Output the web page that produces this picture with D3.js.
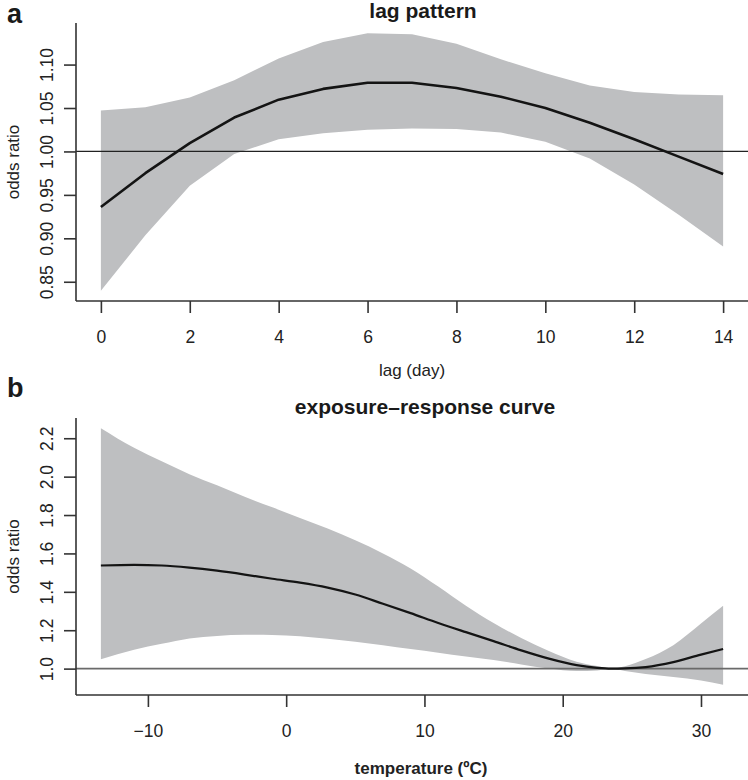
<!DOCTYPE html>
<html>
<head>
<meta charset="utf-8">
<script src="https://cdn.jsdelivr.net/npm/d3@7"></script>
<style>
  html, body { margin: 0; padding: 0; background: #fff; }
  svg { display: block; font-family: "Liberation Sans", Arial, Helvetica, sans-serif; }
</style>
</head>
<body>
<svg id="chart" width="748" height="780"></svg>
<script>
// ---- Panel a: lag pattern ----
const lags = [0, 1, 2, 3, 4, 5, 6, 7, 8, 9, 10, 11, 12, 13, 14];
const fitA = [0.936, 0.975, 1.0095, 1.039, 1.0596, 1.072, 1.079, 1.079, 1.073, 1.063, 1.050, 1.033, 1.014, 0.994, 0.974];
const upperA = [1.047, 1.051, 1.062, 1.082, 1.107, 1.126, 1.136, 1.135, 1.124, 1.106, 1.090, 1.076, 1.0685, 1.0655, 1.0646];
const lowerA = [0.8397, 0.9034, 0.9604, 0.997, 1.0141, 1.021, 1.0249, 1.0263, 1.0257, 1.0218, 1.0113, 0.992, 0.962, 0.927, 0.8906];
const xTicksA = [0, 2, 4, 6, 8, 10, 12, 14];
const yTicksA = [0.85, 0.90, 0.95, 1.00, 1.05, 1.10];

// ---- Panel b: exposure-response curve ----
const temps = [-13.4, -11, -9, -7, -5, -3, -1, 1, 3, 5, 7, 9, 11, 13, 15, 17, 19, 21, 22.5, 23.5, 24.5, 26, 28, 30, 31.6];
const fitB = [1.537, 1.540, 1.537, 1.526, 1.510, 1.490, 1.468, 1.448, 1.422, 1.386, 1.338, 1.289, 1.238, 1.190, 1.143, 1.095, 1.052, 1.018, 1.004, 1.000, 1.001, 1.008, 1.034, 1.073, 1.102];
const upperB = [2.252, 2.150, 2.080, 2.013, 1.955, 1.895, 1.840, 1.785, 1.730, 1.668, 1.600, 1.522, 1.428, 1.328, 1.237, 1.160, 1.092, 1.036, 1.013, 1.000, 1.012, 1.050, 1.122, 1.235, 1.327];
const lowerB = [1.049, 1.098, 1.129, 1.157, 1.170, 1.176, 1.175, 1.168, 1.155, 1.140, 1.122, 1.102, 1.083, 1.063, 1.045, 1.022, 1.000, 0.987, 0.990, 1.000, 0.988, 0.972, 0.956, 0.938, 0.916];
const xTicksB = [-10, 0, 10, 20, 30];
const yTicksB = [1.0, 1.2, 1.4, 1.6, 1.8, 2.0, 2.2];

const svg = d3.select("#chart");
const AXIS = "#333";
const BAND = "#bebfc1";

function rExtend(lo, hi) { const d = (hi - lo) * 0.04; return [lo - d, hi + d]; }

function panel(cfg) {
  const { top, bottom, left, right } = cfg;
  const x = d3.scaleLinear().domain(rExtend(d3.min(cfg.xs), d3.max(cfg.xs))).range([left, right]);
  const yMin = d3.min(cfg.lower), yMax = d3.max(cfg.upper);
  const y = d3.scaleLinear().domain(rExtend(yMin, yMax)).range([bottom, top]);
  const g = svg.append("g");
  const rows = cfg.xs.map((v, i) => ({ x: v, fit: cfg.fit[i], lo: cfg.lower[i], hi: cfg.upper[i] }));

  g.append("path")
    .datum(rows)
    .attr("fill", BAND)
    .attr("d", d3.area().curve(cfg.curve).x(d => x(d.x)).y0(d => y(d.lo)).y1(d => y(d.hi)));

  // reference line at 1
  g.append("line")
    .attr("x1", left).attr("x2", right)
    .attr("y1", y(1)).attr("y2", y(1))
    .attr("stroke", cfg.refColor).attr("stroke-width", cfg.refWidth);

  g.append("path")
    .datum(rows)
    .attr("fill", "none")
    .attr("stroke", "#141414")
    .attr("stroke-width", cfg.lineWidth)
    .attr("stroke-linejoin", "round")
    .attr("d", d3.line().curve(cfg.curve).x(d => x(d.x)).y(d => y(d.fit)));

  // x axis
  const xa = g.append("g").attr("transform", `translate(0,${bottom})`)
    .call(d3.axisBottom(x).tickValues(cfg.xTicks).tickSize(12).tickSizeOuter(0).tickPadding(18)
      .tickFormat(cfg.xFmt));
  xa.select(".domain").attr("d", `M${left},0H${right}`);
  // y axis
  const ya = g.append("g").attr("transform", `translate(${left},0)`)
    .call(d3.axisLeft(y).tickValues(cfg.yTicks).tickSize(12).tickSizeOuter(0).tickFormat(cfg.yFmt));
  ya.select(".domain").attr("d", `M0,${top}V${bottom}`);

  [xa, ya].forEach(a => {
    a.select(".domain").attr("stroke", AXIS).attr("stroke-width", 1.6);
    a.selectAll(".tick line").attr("stroke", AXIS).attr("stroke-width", 1.6);
    a.selectAll(".tick text").attr("fill", "#222").attr("font-size", 17.5)
      .attr("font-family", "Liberation Sans, Arial, sans-serif");
  });
  xa.selectAll(".tick text").attr("dy", null).attr("y", 42);
  ya.selectAll(".tick text")
    .attr("x", null).attr("dy", null)
    .attr("text-anchor", "middle")
    .attr("transform", "translate(-23,0) rotate(-90)");

  // titles and labels
  svg.append("text").attr("x", cfg.titleX).attr("y", cfg.titleY)
    .attr("text-anchor", "middle").attr("font-size", 21).attr("font-weight", "bold")
    .attr("fill", "#1a1a1a").text(cfg.title);
  svg.append("text").attr("x", 7).attr("y", cfg.letterY)
    .attr("font-size", 27).attr("font-weight", "bold").attr("fill", "#1a1a1a").text(cfg.letter);
  svg.append("text").attr("transform", `translate(19,${(top + bottom) / 2}) rotate(-90)`)
    .attr("text-anchor", "middle").attr("font-size", 17).attr("fill", "#222").text("odds ratio");
  svg.append("text").attr("x", cfg.xLabelX).attr("y", cfg.xLabelY)
    .attr("text-anchor", "middle").attr("font-size", 17)
    .attr("font-weight", cfg.xLabelBold ? "bold" : "normal")
    .attr("fill", "#222").text(cfg.xLabel);
}

panel({
  top: 23, bottom: 301, left: 76, right: 748,
  xs: lags, fit: fitA, lower: lowerA, upper: upperA,
  xTicks: xTicksA, yTicks: yTicksA,
  xFmt: d3.format("d"), yFmt: d3.format(".2f"),
  curve: d3.curveLinear, lineWidth: 2.6, refColor: "#222", refWidth: 1.3,
  title: "lag pattern", titleX: 423, titleY: 18,
  letter: "a", letterY: 23,
  xLabel: "lag (day)", xLabelX: 412, xLabelY: 376, xLabelBold: false
});

panel({
  top: 418, bottom: 695, left: 76, right: 748,
  xs: temps, fit: fitB, lower: lowerB, upper: upperB,
  xTicks: xTicksB, yTicks: yTicksB,
  xFmt: d3.format("d"), yFmt: d3.format(".1f"),
  curve: d3.curveMonotoneX, lineWidth: 2.2, refColor: "#6a6a6a", refWidth: 1.8,
  title: "exposure\u2013response curve", titleX: 425, titleY: 414,
  letter: "b", letterY: 397,
  xLabel: "temperature (\u00baC)", xLabelX: 421, xLabelY: 774, xLabelBold: true
});
</script>
</body>
</html>
